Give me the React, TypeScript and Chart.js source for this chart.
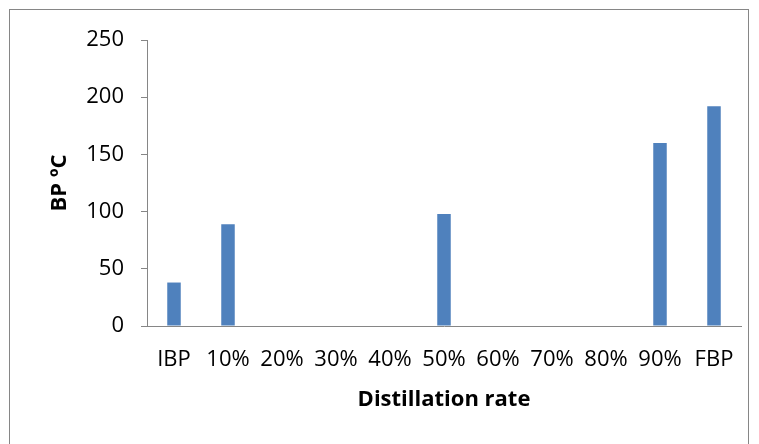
import React, { useEffect, useRef } from "react";
import { Chart, registerables } from "chart.js";

Chart.register(...registerables);

const categories = ["IBP", "10%", "20%", "30%", "40%", "50%", "60%", "70%", "80%", "90%", "FBP"];
const bpValues = [38, 89, 0, 0, 0, 98, 0, 0, 0, 160, 192];
const yMin = 0;
const yMax = 250;
const yStep = 50;
const xTitle = "Distillation rate";
const yTitle = "BP ºC";

const FONT = "'Open Sans', 'Liberation Sans', sans-serif";
const AXIS_GRAY = "#868686";

export default function App() {
  const ref = useRef<HTMLCanvasElement | null>(null);

  useEffect(() => {
    if (!ref.current) return;
    const chart = new Chart(ref.current, {
      type: "bar",
      data: {
        labels: categories,
        datasets: [
          {
            label: "BP",
            data: bpValues,
            backgroundColor: "#4F81BD",
            borderWidth: 0,
            barPercentage: 0.25,
            categoryPercentage: 1,
          },
        ],
      },
      options: {
        responsive: false,
        animation: false,
        maintainAspectRatio: false,
        layout: { padding: { left: 47, right: 18, top: 40, bottom: 31 } },
        plugins: {
          legend: { display: false },
          tooltip: { enabled: false },
        },
        scales: {
          x: {
            grid: { display: false, drawTicks: false },
            border: { display: true, color: AXIS_GRAY, width: 1 },
            ticks: {
              color: "#000",
              font: { family: FONT, size: 22 },
              padding: 21,
              maxRotation: 0,
              minRotation: 0,
              autoSkip: false,
            },
            title: {
              display: true,
              text: xTitle,
              color: "#000",
              font: { family: FONT, size: 22, weight: "bold", lineHeight: 1.2 },
              padding: 0,
            },
            afterFit: (scale: any) => {
              scale.height = 87;
            },
          },
          y: {
            min: yMin,
            max: yMax,
            grid: {
              drawOnChartArea: false,
              drawTicks: true,
              tickLength: 6,
              color: AXIS_GRAY,
            },
            border: { display: true, color: AXIS_GRAY, width: 1 },
            ticks: {
              stepSize: yStep,
              color: "#000",
              font: { family: FONT, size: 22 },
              padding: 17,
            },
            title: {
              display: true,
              text: yTitle,
              color: "#000",
              font: { family: FONT, size: 22, weight: "bold", lineHeight: 1.2 },
              padding: 0,
            },
            afterFit: (scale: any) => {
              scale.width = 100;
            },
          },
        },
      },
    });
    return () => chart.destroy();
  }, []);

  return (
    <div>
      <div
        style={{
          position: "fixed",
          left: 9,
          top: 9,
          width: 740,
          height: 520,
          border: `1px solid ${AXIS_GRAY}`,
          boxSizing: "border-box",
          background: "#fff",
        }}
      />
      <canvas
        ref={ref}
        width={759}
        height={444}
        style={{ position: "fixed", left: 0, top: 0, width: 759, height: 444 }}
      />
    </div>
  );
}
